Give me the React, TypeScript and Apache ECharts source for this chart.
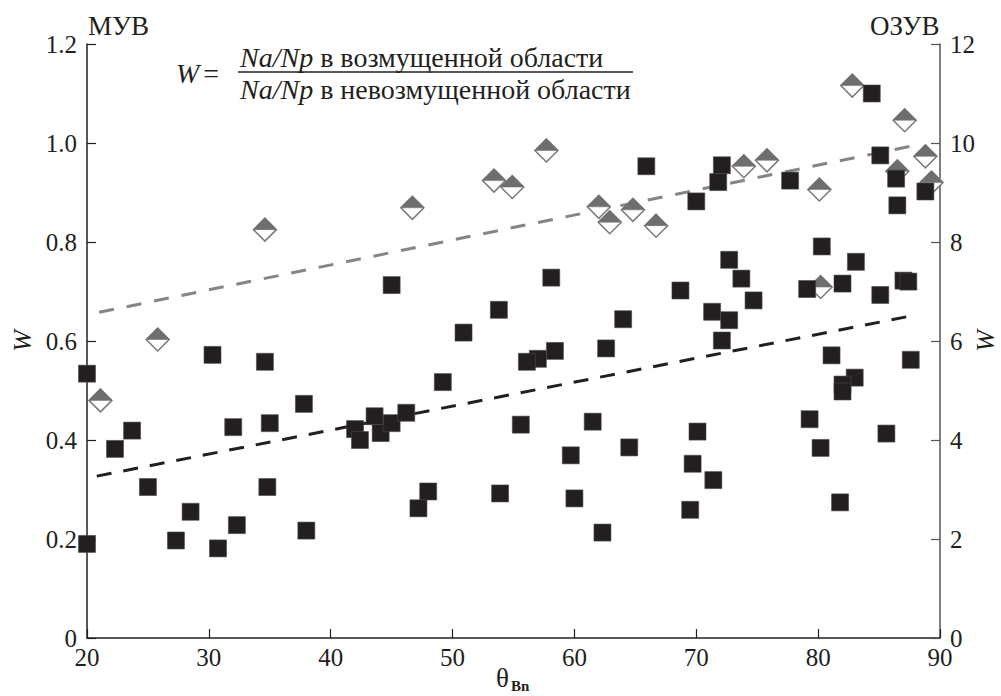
import React, { useEffect, useRef } from "react";
import * as echarts from "echarts";

// МУВ (left axis, W)
const muvTheta = [20.0, 20.0, 22.3, 23.7, 25.0, 28.5, 27.3, 30.75, 32.3, 34.8, 38.0, 30.3, 34.6, 32.0, 35.0, 37.8,
  45.0, 58.1, 53.8, 50.9, 64.0, 62.6, 58.4, 57.0, 56.1, 49.2, 42.0, 42.4, 43.6, 44.1, 45.0, 46.2, 55.6, 61.5, 59.7, 64.5,
  48.0, 47.2, 53.9, 60.0, 62.3, 69.7, 71.4, 69.5, 81.8, 70.1,
  68.7, 72.7, 73.7, 74.7, 71.3, 72.7, 72.1, 80.3, 83.1, 79.1, 82.0, 85.1, 87.0, 87.4, 81.1, 87.6, 83.0, 82.0, 82.0, 79.3, 80.2, 85.6,
  72.1, 71.8, 70.0, 77.7, 84.4, 85.1, 86.4, 86.5, 88.8, 65.9];
const muvW = [0.19, 0.534, 0.382, 0.419, 0.305, 0.255, 0.197, 0.181, 0.228, 0.305, 0.217, 0.572, 0.558, 0.426, 0.434, 0.473,
  0.713, 0.728, 0.663, 0.617, 0.644, 0.585, 0.580, 0.564, 0.558, 0.517, 0.422, 0.400, 0.448, 0.414, 0.434, 0.455, 0.431, 0.437, 0.369, 0.385,
  0.296, 0.262, 0.292, 0.282, 0.213, 0.352, 0.319, 0.259, 0.274, 0.417,
  0.702, 0.764, 0.726, 0.682, 0.659, 0.642, 0.601, 0.791, 0.760, 0.705, 0.716, 0.693, 0.722, 0.720, 0.571, 0.562, 0.526, 0.512, 0.498, 0.442, 0.384, 0.413,
  0.955, 0.921, 0.882, 0.924, 1.100, 0.975, 0.928, 0.874, 0.902, 0.953];

// ОЗУВ (right axis, W)
const ozuvTheta = [34.6, 21.1, 25.8, 46.7, 57.7, 53.4, 54.9, 62.0, 62.9, 64.8, 66.7, 73.9, 75.8, 82.8, 87.1, 88.8, 80.1, 86.5, 89.3, 80.2];
const ozuvW = [8.25, 4.8, 6.03, 8.69, 9.85, 9.24, 9.11, 8.71, 8.4, 8.65, 8.33, 9.53, 9.65, 11.16, 10.46, 9.73, 9.06, 9.43, 9.2, 7.09];

// regression lines (endpoints)
const muvFitTheta = [20.8, 87.5];
const muvFitW = [0.327, 0.65];
const ozuvFitTheta = [21.0, 87.5];
const ozuvFitW = [6.58, 9.93];

const xTicks = { min: 20, max: 90, interval: 10 };
const leftTicks = { min: 0, max: 1.2, interval: 0.2 };
const rightTicks = { min: 0, max: 12, interval: 2 };

const FONT = "'Liberation Serif', 'Times New Roman', 'DejaVu Serif', serif";

export default function App() {
  const ref = useRef<HTMLDivElement>(null);
  useEffect(() => {
    const chart = echarts.init(ref.current!, null, { renderer: "svg" });
    const zip = (a: number[], b: number[]) => a.map((v, i) => [v, b[i]]);
    const axisText = { fontFamily: FONT, fontSize: 25, color: "#231f20" };
    const ital = { fontFamily: FONT, fontStyle: "italic", fontSize: 28, color: "#231f20" };
    const norm = { fontFamily: FONT, fontSize: 28, color: "#231f20" };
    chart.setOption({
      animation: false,
      grid: { left: 87, right: 61, top: 44, bottom: 58, containLabel: false },
      xAxis: {
        type: "value",
        ...xTicks,
        axisLine: { show: true, lineStyle: { color: "#231f20", width: 1.5 } },
        axisTick: { show: true, inside: true, length: 9, lineStyle: { color: "#231f20", width: 1.2 } },
        axisLabel: { ...axisText, margin: 7 },
        splitLine: { show: false },
      },
      yAxis: [
        {
          type: "value",
          position: "left",
          ...leftTicks,
          axisLine: { show: true, onZero: false, lineStyle: { color: "#231f20", width: 1.5 } },
          axisTick: { show: true, inside: true, length: 9, lineStyle: { color: "#231f20", width: 1.2 } },
          axisLabel: { ...axisText, margin: 10, formatter: (v: number) => (v === 0 ? "0" : v.toFixed(1)) },
          splitLine: { show: false },
        },
        {
          type: "value",
          position: "right",
          ...rightTicks,
          axisLine: { show: true, onZero: false, lineStyle: { color: "#555", width: 1.5 } },
          axisTick: { show: true, inside: true, length: 9, lineStyle: { color: "#555", width: 1.2 } },
          axisLabel: { ...axisText, margin: 10 },
          splitLine: { show: false },
        },
      ],
      series: [
        {
          type: "line",
          yAxisIndex: 1,
          data: zip(ozuvFitTheta, ozuvFitW),
          symbol: "none",
          lineStyle: { color: "#858585", width: 3, type: [15, 13] },
          z: 1,
        },
        {
          type: "line",
          yAxisIndex: 0,
          data: zip(muvFitTheta, muvFitW),
          symbol: "none",
          lineStyle: { color: "#231f20", width: 3, type: [15, 12] },
          z: 1,
        },
        {
          type: "scatter",
          yAxisIndex: 1,
          data: zip(ozuvTheta, ozuvW),
          symbol: "diamond",
          symbolSize: [23, 23],
          itemStyle: { color: "#ffffff", borderColor: "#7a7a7a", borderWidth: 1.5, opacity: 1 },
          z: 2,
        },
        {
          type: "scatter",
          yAxisIndex: 1,
          data: zip(ozuvTheta, ozuvW),
          symbol: "path://M0,1 L1,0 L2,1 Z",
          symbolSize: [23, 11.5],
          symbolOffset: [0, -5.75],
          itemStyle: { color: "#6e6e6e", borderColor: "#6e6e6e", borderWidth: 0.5, opacity: 1 },
          z: 3,
        },
        {
          type: "scatter",
          yAxisIndex: 0,
          data: zip(muvTheta, muvW),
          symbol: "rect",
          symbolSize: 17,
          itemStyle: { color: "#231f20", borderColor: "#4a4a4a", borderWidth: 0.6, opacity: 1 },
          z: 4,
        },
      ],
      graphic: [
        { type: "text", left: 88, top: 12, style: { text: "МУВ", ...norm, fontSize: 27, fill: "#231f20" } },
        { type: "text", left: 870, top: 12, style: { text: "ОЗУВ", ...norm, fontSize: 27, fill: "#231f20" } },
        {
          type: "text",
          x: 22,
          y: 341,
          rotation: Math.PI / 2,
          style: { text: "W", ...ital, fontSize: 26, fill: "#231f20", align: "center", verticalAlign: "middle" },
        },
        {
          type: "text",
          x: 985,
          y: 341,
          rotation: Math.PI / 2,
          style: { text: "W", ...ital, fontSize: 26, fill: "#231f20", align: "center", verticalAlign: "middle" },
        },
        {
          type: "text",
          x: 496,
          y: 678,
          style: { text: "θ", ...norm, fontSize: 27, fill: "#231f20", align: "left", verticalAlign: "middle" },
        },
        {
          type: "text",
          x: 511,
          y: 686,
          style: { text: "Bn", ...norm, fontSize: 15, fontWeight: "bold", fill: "#231f20", align: "left", verticalAlign: "middle" },
        },
        {
          type: "text",
          x: 176,
          y: 73,
          style: {
            text: "{i|W}=",
            ...norm,
            fill: "#231f20",
            verticalAlign: "middle",
            rich: { i: { ...ital, padding: [0, 4, 0, 0] } },
          },
        },
        {
          type: "text",
          x: 240,
          y: 57,
          style: {
            text: "{i|Na/Np} в возмущенной области",
            ...norm,
            fill: "#231f20",
            verticalAlign: "middle",
            rich: { i: ital },
          },
        },
        {
          type: "line",
          shape: { x1: 238, y1: 72, x2: 633, y2: 72 },
          style: { stroke: "#231f20", lineWidth: 1.5 },
        },
        {
          type: "text",
          x: 240,
          y: 89,
          style: {
            text: "{i|Na/Np} в невозмущенной области",
            ...norm,
            fill: "#231f20",
            verticalAlign: "middle",
            rich: { i: ital },
          },
        },
      ],
    });
    return () => chart.dispose();
  }, []);
  return <div ref={ref} style={{ width: 1001, height: 696, position: "absolute", left: 0, top: 0 }} />;
}
